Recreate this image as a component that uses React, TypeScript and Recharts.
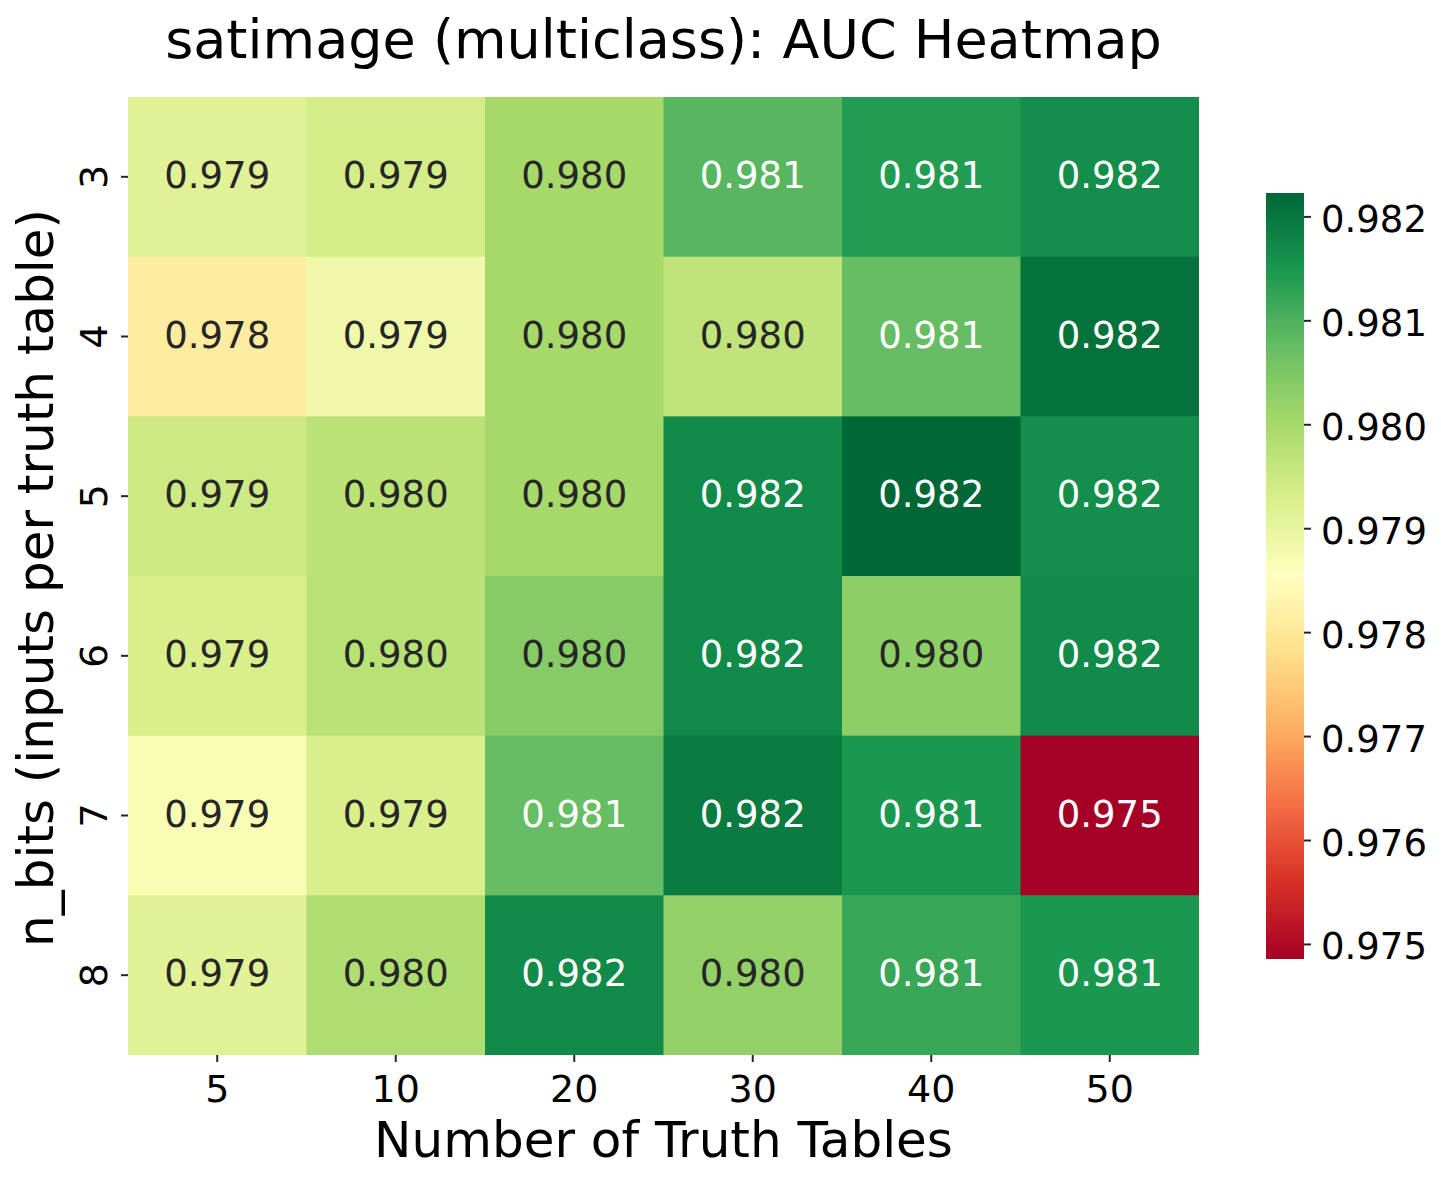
import { ScatterChart, Scatter, XAxis, YAxis, BarChart, Bar, Label } from "recharts";

const FONT = '"DejaVu Sans", "Liberation Sans", sans-serif';

// Number of truth tables (columns) and n_bits (rows)
const truthTables = ["5", "10", "20", "30", "40", "50"];
const nBits = ["3", "4", "5", "6", "7", "8"];

// AUC per row (n_bits), columns follow truthTables
const auc3 = [0.97913, 0.97936, 0.98002, 0.9809, 0.98142, 0.98164];
const auc4 = [0.9781, 0.97884, 0.98002, 0.97965, 0.98076, 0.98208];
const auc5 = [0.97947, 0.97972, 0.98002, 0.98171, 0.98223, 0.98164];
const auc6 = [0.97928, 0.97976, 0.98039, 0.98171, 0.98031, 0.98171];
const auc7 = [0.97869, 0.97928, 0.98076, 0.98194, 0.98149, 0.97486];
const auc8 = [0.97913, 0.97987, 0.98171, 0.98024, 0.9812, 0.98149];
const aucRows = [auc3, auc4, auc5, auc6, auc7, auc8];

const colorbarTicks = [0.975, 0.976, 0.977, 0.978, 0.979, 0.98, 0.981, 0.982];
const VMIN = 0.97486;
const VMAX = 0.98223;

// RdYlGn
const RDYLGN = [
  "#a50026", "#d73027", "#f46d43", "#fdae61", "#fee08b", "#ffffbf",
  "#d9ef8b", "#a6d96a", "#66bd63", "#1a9850", "#006837",
];

const hexToRgb = (h: string) => [1, 3, 5].map((i) => parseInt(h.slice(i, i + 2), 16));

function cmap(v: number) {
  let t = (v - VMIN) / (VMAX - VMIN);
  t = Math.max(0, Math.min(1, t));
  const pos = t * (RDYLGN.length - 1);
  const i = Math.min(Math.floor(pos), RDYLGN.length - 2);
  const f = pos - i;
  const a = hexToRgb(RDYLGN[i]);
  const b = hexToRgb(RDYLGN[i + 1]);
  return a.map((c, k) => Math.round(c + (b[k] - c) * f));
}

function luminance(rgb: number[]) {
  const lin = rgb.map((c) => {
    const s = c / 255;
    return s <= 0.03928 ? s / 12.92 : Math.pow((s + 0.055) / 1.055, 2.4);
  });
  return 0.2126 * lin[0] + 0.7152 * lin[1] + 0.0722 * lin[2];
}

const cells = aucRows.flatMap((row, r) =>
  row.map((value, c) => ({ x: c + 0.5, y: r + 0.5, value }))
);

const PLOT_LEFT = 128;
const PLOT_RIGHT = 1199;
const PLOT_TOP = 97;
const PLOT_BOTTOM = 1055;
const CELL_W = (PLOT_RIGHT - PLOT_LEFT) / truthTables.length;
const CELL_H = (PLOT_BOTTOM - PLOT_TOP) / nBits.length;
const centers = [0.5, 1.5, 2.5, 3.5, 4.5, 5.5];

const HeatCell = (props: any) => {
  const { cx, cy, payload } = props;
  const rgb = cmap(payload.value);
  const fill = `rgb(${rgb.join(",")})`;
  const textFill = luminance(rgb) > 0.408 ? "#262626" : "#ffffff";
  return (
    <g>
      <rect x={cx - CELL_W / 2} y={cy - CELL_H / 2} width={CELL_W + 0.6} height={CELL_H + 0.6} fill={fill} />
      <text x={cx} y={cy} dy={11} textAnchor="middle" fontSize={37} fontFamily={FONT} fill={textFill}>
        {payload.value.toFixed(3)}
      </text>
    </g>
  );
};

const XTick = (props: any) => {
  const { x, payload } = props;
  return (
    <text x={x} y={1102} textAnchor="middle" fontSize={38} fontFamily={FONT} fill="#000">
      {truthTables[Math.floor(payload.value)]}
    </text>
  );
};

const YTick = (props: any) => {
  const { y, payload } = props;
  const tx = PLOT_LEFT - 21;
  return (
    <text x={tx} y={y} transform={`rotate(-90, ${tx}, ${y})`} textAnchor="middle" fontSize={38} fontFamily={FONT} fill="#000">
      {nBits[Math.floor(payload.value)]}
    </text>
  );
};

const YTitle = () => (
  <text x={53} y={578} transform="rotate(-90, 53, 578)" textAnchor="middle" fontSize={50} fontFamily={FONT} fill="#000">
    n_bits (inputs per truth table)
  </text>
);

const XTitle = () => (
  <text x={(PLOT_LEFT + PLOT_RIGHT) / 2} y={1157} textAnchor="middle" fontSize={50} fontFamily={FONT} fill="#000">
    Number of Truth Tables
  </text>
);

const CbTick = (props: any) => {
  const { y, payload } = props;
  return (
    <text x={55} y={y} dy={15} textAnchor="start" fontSize={37} fontFamily={FONT} fill="#000">
      {Number(payload.value).toFixed(3)}
    </text>
  );
};

const colorbarData = [{ name: "auc", v: VMAX }];

export default function App() {
  return (
    <div style={{ position: "absolute", left: 0, top: 0, width: 1441, height: 1181, background: "#fff" }}>
      <svg width={1441} height={90} style={{ position: "absolute", left: 0, top: 0 }}>
        <text x={(PLOT_LEFT + PLOT_RIGHT) / 2} y={58} textAnchor="middle" fontSize={54} fontFamily={FONT} fill="#000">
          satimage (multiclass): AUC Heatmap
        </text>
      </svg>
      <div style={{ position: "absolute", left: 0, top: 0 }}>
        <ScatterChart width={1441} height={1181} margin={{ top: PLOT_TOP, right: 1441 - PLOT_RIGHT, bottom: 0, left: 0 }}>
          <XAxis
            type="number"
            dataKey="x"
            domain={[0, 6]}
            ticks={centers}
            allowDataOverflow
            axisLine={false}
            tickSize={7}
            tickLine={{ stroke: "#262626", strokeWidth: 2 }}
            height={1181 - PLOT_BOTTOM}
            tick={<XTick />}
            interval={0}
          >
            <Label content={<XTitle />} />
          </XAxis>
          <YAxis
            type="number"
            dataKey="y"
            domain={[0, 6]}
            reversed
            ticks={centers}
            allowDataOverflow
            axisLine={false}
            tickSize={7}
            tickLine={{ stroke: "#262626", strokeWidth: 2 }}
            width={PLOT_LEFT}
            tick={<YTick />}
            interval={0}
          >
            <Label content={<YTitle />} />
          </YAxis>
          <Scatter data={cells} shape={<HeatCell />} isAnimationActive={false} />
        </ScatterChart>
      </div>
      <div style={{ position: "absolute", left: 1266, top: 0 }}>
        <BarChart
          width={175}
          height={1181}
          data={colorbarData}
          margin={{ top: 193, right: 0, bottom: 1181 - 959, left: 0 }}
          barCategoryGap={0}
        >
          <defs>
            <linearGradient id="rdylgn" x1="0" y1="1" x2="0" y2="0">
              {RDYLGN.map((c, i) => (
                <stop key={c} offset={`${(i / (RDYLGN.length - 1)) * 100}%`} stopColor={c} />
              ))}
            </linearGradient>
          </defs>
          <XAxis dataKey="name" hide />
          <YAxis
            orientation="right"
            type="number"
            domain={[VMIN, VMAX]}
            ticks={colorbarTicks}
            allowDataOverflow
            axisLine={false}
            tickSize={7}
            tickLine={{ stroke: "#262626", strokeWidth: 2 }}
            width={137}
            tick={<CbTick />}
            interval={0}
          />
          <Bar dataKey="v" fill="url(#rdylgn)" isAnimationActive={false} />
        </BarChart>
      </div>
    </div>
  );
}
